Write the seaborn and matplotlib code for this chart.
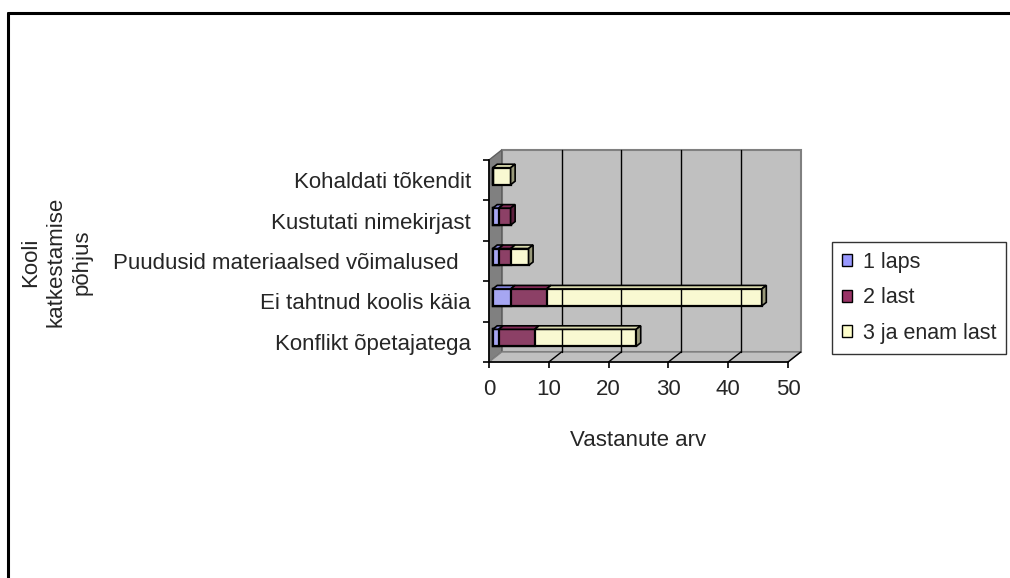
import matplotlib
matplotlib.use('Agg')
import matplotlib.pyplot as plt
import matplotlib.transforms as mtransforms
from matplotlib.patches import Polygon, Patch
from matplotlib.lines import Line2D
import seaborn as sns
import pandas as pd
import numpy as np

# data (top to bottom)
categories = ['Kohaldati tõkendit', 'Kustutati nimekirjast',
              'Puudusid materiaalsed võimalused  ', 'Ei tahtnud koolis käia',
              'Konflikt õpetajatega']
one_child = [0, 1, 1, 3, 1]
two_children = [0, 2, 2, 6, 6]
three_plus = [3, 0, 3, 36, 17]
series_names = ['1 laps', '2 last', '3 ja enam last']
x_ticks = [0, 10, 20, 30, 40, 50]

colors = ['#9999ff', '#993366', '#ffffcc']

sns.set_style('white')
plt.rcParams['font.family'] = ['Liberation Sans', 'DejaVu Sans']
FS = 16

df = pd.DataFrame({'cat': categories, 'one': one_child,
                   'two': two_children, 'three': three_plus})
df['cum1'] = df['one']
df['cum2'] = df['one'] + df['two']
df['cum3'] = df['cum2'] + df['three']

DPI = 100
fig = plt.figure(figsize=(10.1, 5.78), dpi=DPI)
ax = fig.add_axes([489 / 1010, 1 - 362 / 578, 299 / 1010, 202 / 578])
ax.set_facecolor('none')

# stacked bars: draw cumulative totals, largest first
bar_w = 0.42
for col, c in zip(['cum3', 'cum2', 'cum1'], colors[::-1]):
    sns.barplot(data=df, x=col, y='cat', color=c, width=bar_w, orient='h',
                edgecolor='black', linewidth=1.6, ax=ax, zorder=5)

ax.set_xlim(0, 50)
ax.set_ylim(4.5, -0.5)

# fake 3D depth (pixels)
wall_dx, wall_dy = 12.7, 10.0
bar_ox, bar_oy = 3.7, 4.0
bar_dx, bar_dy = 4.5, 3.5

shift_bar = mtransforms.ScaledTranslation(bar_ox / DPI, bar_oy / DPI, fig.dpi_scale_trans)
for p in ax.patches:
    p.set_transform(ax.transData + shift_bar)

fig.canvas.draw()
T = ax.transData


def disp(x, y):
    return np.array(T.transform((x, y)))


ident = mtransforms.IdentityTransform()
p00 = disp(0, 4.5)
p50 = disp(50, 4.5)
p0t = disp(0, -0.5)
off = np.array([wall_dx, wall_dy])

# back wall
wall = Polygon([p00 + off, p50 + off, disp(50, -0.5) + off, p0t + off],
               closed=True, facecolor='#c0c0c0', edgecolor='#808080',
               linewidth=1.5, transform=ident, zorder=0)
fig.add_artist(wall)
# left wall
lwall = Polygon([p00, p00 + off, p0t + off, p0t], closed=True,
                facecolor='#808080', edgecolor='#606060', linewidth=1,
                transform=ident, zorder=0)
fig.add_artist(lwall)
# floor
floor = Polygon([p00, p50, p50 + off, p00 + off], closed=True,
                facecolor='#c0c0c0', edgecolor='#808080', linewidth=1,
                transform=ident, zorder=0)
fig.add_artist(floor)
for v in x_ticks[1:]:
    b = disp(v, 4.5)
    t = disp(v, -0.5)
    if v < 50:
        fig.add_artist(Line2D([b[0] + off[0], t[0] + off[0]], [b[1] + off[1], t[1] + off[1]],
                              color='black', linewidth=1, transform=ident, zorder=0.5))
    fig.add_artist(Line2D([b[0], b[0] + off[0]], [b[1], b[1] + off[1]],
                          color='black', linewidth=1, transform=ident, zorder=0.5))


def shade(c, f):
    rgb = np.array(matplotlib.colors.to_rgb(c))
    return tuple(rgb * f)


# top faces and right side faces of bars
bo = np.array([bar_ox, bar_oy])
bd = np.array([bar_dx, bar_dy])
for i, row in df.iterrows():
    ytop = i - bar_w / 2
    ybot = i + bar_w / 2
    segs = [(0, row['cum1'], colors[0]), (row['cum1'], row['cum2'], colors[1]),
            (row['cum2'], row['cum3'], colors[2])]
    segs = [s for s in segs if s[1] > s[0]]
    for x0, x1, c in segs:
        a = disp(x0, ytop) + bo
        b = disp(x1, ytop) + bo
        fig.add_artist(Polygon([a, b, b + bd, a + bd], closed=True,
                               facecolor=shade(c, 0.85), edgecolor='black',
                               linewidth=1.2, transform=ident, zorder=3))
    x1, c = segs[-1][1], segs[-1][2]
    a = disp(x1, ytop) + bo
    b = disp(x1, ybot) + bo
    fig.add_artist(Polygon([b, a, a + bd, b + bd], closed=True,
                           facecolor=shade(c, 0.6), edgecolor='black',
                           linewidth=1.2, transform=ident, zorder=3))

# axes cosmetics
for s in ['top', 'right']:
    ax.spines[s].set_visible(False)
for s in ['left', 'bottom']:
    ax.spines[s].set_color('black')
    ax.spines[s].set_linewidth(1.2)
ax.set_xticks(x_ticks)
ax.set_xticklabels([str(v) for v in x_ticks], fontsize=FS)
ax.set_yticks(range(len(categories)))
ax.set_yticklabels(categories, fontsize=FS)
ax.set_yticks(np.arange(-0.5, 5, 1), minor=True)
ax.tick_params(axis='y', which='major', length=0, pad=13)
ax.tick_params(axis='y', which='minor', length=4, width=1.2, color='black', left=True)
ax.tick_params(axis='x', length=4, width=1.2, color='black', bottom=True, pad=8)
ax.set_xlabel('Vastanute arv', fontsize=FS, labelpad=22)
ax.set_ylabel('')
ax.grid(False)

fig.text(56 / 1010, 1 - 262 / 578, 'Kooli\nkatkestamise\npõhjus', rotation=90,
         ha='center', va='center', multialignment='center', fontsize=FS,
         linespacing=1.3)

handles = [Patch(facecolor=c, edgecolor='black', linewidth=1) for c in colors]
leg = fig.legend(handles, series_names, loc='upper left',
                 bbox_to_anchor=(832 / 1010, 1 - 242 / 578), fontsize=15.5,
                 frameon=True, fancybox=False, edgecolor='black',
                 handlelength=0.5, handleheight=0.5, handletextpad=0.5,
                 labelspacing=0.68, borderpad=0.45, borderaxespad=0)
leg.get_frame().set_linewidth(1)

# outer frame (top and left edges)
fig.add_artist(Line2D([8 / 1010, 1], [1 - 13 / 578, 1 - 13 / 578], color='black',
                      linewidth=2.2, transform=fig.transFigure))
fig.add_artist(Line2D([8 / 1010, 8 / 1010], [0, 1 - 13 / 578], color='black',
                      linewidth=2.2, transform=fig.transFigure))

fig.savefig('out.png', dpi=DPI)
